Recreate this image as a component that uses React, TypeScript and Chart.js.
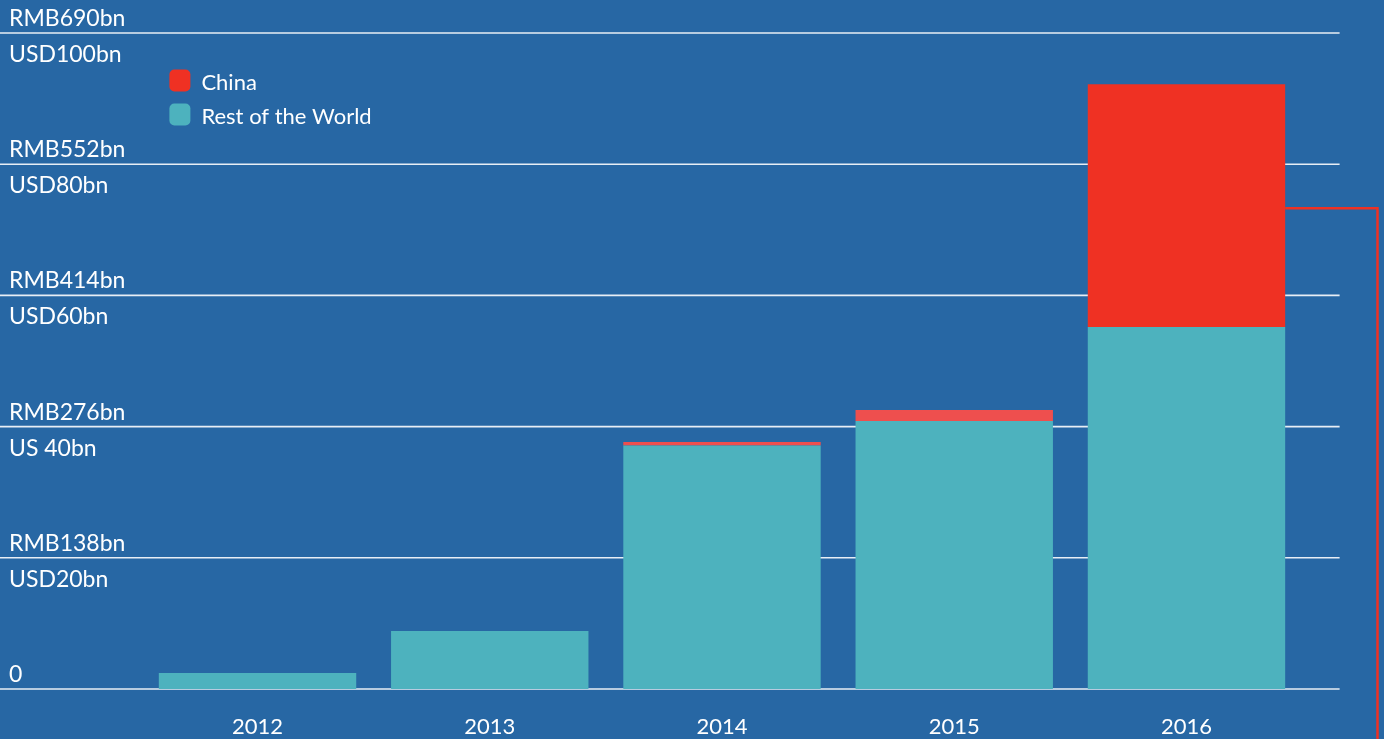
import React, { useEffect, useRef } from 'react';
import { Chart, registerables } from 'chart.js';

Chart.register(...registerables);

const categories = ['2012', '2013', '2014', '2015', '2016'];
const restOfWorld = [2.44, 8.84, 37.1, 40.85, 55.2];
const china = [0, 0, 0.56, 1.68, 37.0];
const tickValues = [0, 20, 40, 60, 80, 100];
const rmbLabels = ['0', 'RMB138bn', 'RMB276bn', 'RMB414bn', 'RMB552bn', 'RMB690bn'];
const usdLabels = ['', 'USD20bn', 'US 40bn', 'USD60bn', 'USD80bn', 'USD100bn'];
const legendLabels = ['China', 'Rest of the World'];
const bracketValue = 73.3;

const BG = '#2767a4';
const TEAL = '#4db2be';
const RED = '#ef3123';
const LIGHT_RED = '#ee4f4e';
const GRID = '#e8eef5';
const FONT = 'Lato, "Open Sans", sans-serif';
const FONT_SIZE = 22;
const Y_FONT_SIZE = 23;

const decor = {
  id: 'decor',
  beforeDatasetsDraw(chart: any) {
    const { ctx, chartArea, scales } = chart;
    const y = scales.y;
    ctx.save();
    ctx.strokeStyle = GRID;
    ctx.lineWidth = 1.6;
    tickValues.forEach((v) => {
      const py = y.getPixelForValue(v);
      ctx.beginPath();
      ctx.moveTo(0, py);
      ctx.lineTo(chartArea.right + 37, py);
      ctx.stroke();
    });
    ctx.fillStyle = '#ffffff';
    ctx.font = `${Y_FONT_SIZE}px ${FONT}`;
    ctx.textAlign = 'left';
    ctx.textBaseline = 'alphabetic';
    tickValues.forEach((v, i) => {
      const py = y.getPixelForValue(v);
      ctx.fillText(rmbLabels[i], 9, py - 7);
      if (usdLabels[i]) ctx.fillText(usdLabels[i], 9, py + 29);
    });
    ctx.restore();
  },
  afterDatasetsDraw(chart: any) {
    const { ctx, chartArea, scales } = chart;
    const y = scales.y;
    ctx.save();
    // bracket line from last bar
    const meta = chart.getDatasetMeta(1);
    const bar = meta.data[meta.data.length - 1];
    const props = bar.getProps(['x', 'width'], true);
    const py = y.getPixelForValue(bracketValue);
    const rx = chart.width - 6.5;
    ctx.strokeStyle = RED;
    ctx.lineWidth = 2.5;
    ctx.beginPath();
    ctx.moveTo(props.x + props.width / 2, py);
    ctx.lineTo(rx, py);
    ctx.lineTo(rx, chart.height);
    ctx.stroke();

    // legend
    const colors = [RED, TEAL];
    const bx = chartArea.left + 28;
    ctx.font = `${FONT_SIZE}px ${FONT}`;
    ctx.textAlign = 'left';
    ctx.textBaseline = 'alphabetic';
    legendLabels.forEach((label, i) => {
      const by = chartArea.top + 36.5 + i * 34;
      ctx.fillStyle = colors[i];
      ctx.beginPath();
      (ctx as any).roundRect(bx, by, 21, 22, 5);
      ctx.fill();
      ctx.fillStyle = '#ffffff';
      ctx.fillText(label, bx + 32, by + 20.5);
    });
    ctx.restore();
  },
};

export default function App() {
  const canvasRef = useRef<HTMLCanvasElement | null>(null);

  useEffect(() => {
    document.body.style.margin = '0';
    const canvas = canvasRef.current;
    if (!canvas) return;
    const lastIndex = categories.length - 1;
    const chart = new Chart(canvas, {
      type: 'bar',
      data: {
        labels: categories,
        datasets: [
          {
            label: 'Rest of the World',
            data: restOfWorld,
            backgroundColor: TEAL,
            borderWidth: 0,
            barPercentage: 0.85,
            categoryPercentage: 1,
          },
          {
            label: 'China',
            data: china,
            backgroundColor: (c: any) => (c.dataIndex === lastIndex ? RED : LIGHT_RED),
            borderWidth: 0,
            barPercentage: 0.85,
            categoryPercentage: 1,
          },
        ],
      },
      options: {
        animation: false,
        responsive: true,
        maintainAspectRatio: false,
        layout: { padding: { top: 33, right: 81.4, left: 0, bottom: 0 } },
        plugins: {
          legend: { display: false },
          tooltip: { enabled: false },
        },
        scales: {
          x: {
            stacked: true,
            grid: { display: false, drawTicks: false },
            border: { display: false },
            ticks: {
              color: '#ffffff',
              font: { family: FONT, size: FONT_SIZE },
              padding: 25,
            },
            afterFit: (s: any) => {
              s.height = 50;
            },
          },
          y: {
            stacked: true,
            min: 0,
            max: 100,
            grid: { display: false, drawTicks: false },
            border: { display: false },
            ticks: { display: false },
            afterFit: (s: any) => {
              s.width = 141.4;
            },
          },
        },
      },
      plugins: [decor],
    } as any);
    return () => chart.destroy();
  }, []);

  return (
    <div style={{ position: 'fixed', left: 0, top: 0, width: '100vw', height: '100vh', background: BG }}>
      <canvas ref={canvasRef} style={{ display: 'block' }} />
    </div>
  );
}
